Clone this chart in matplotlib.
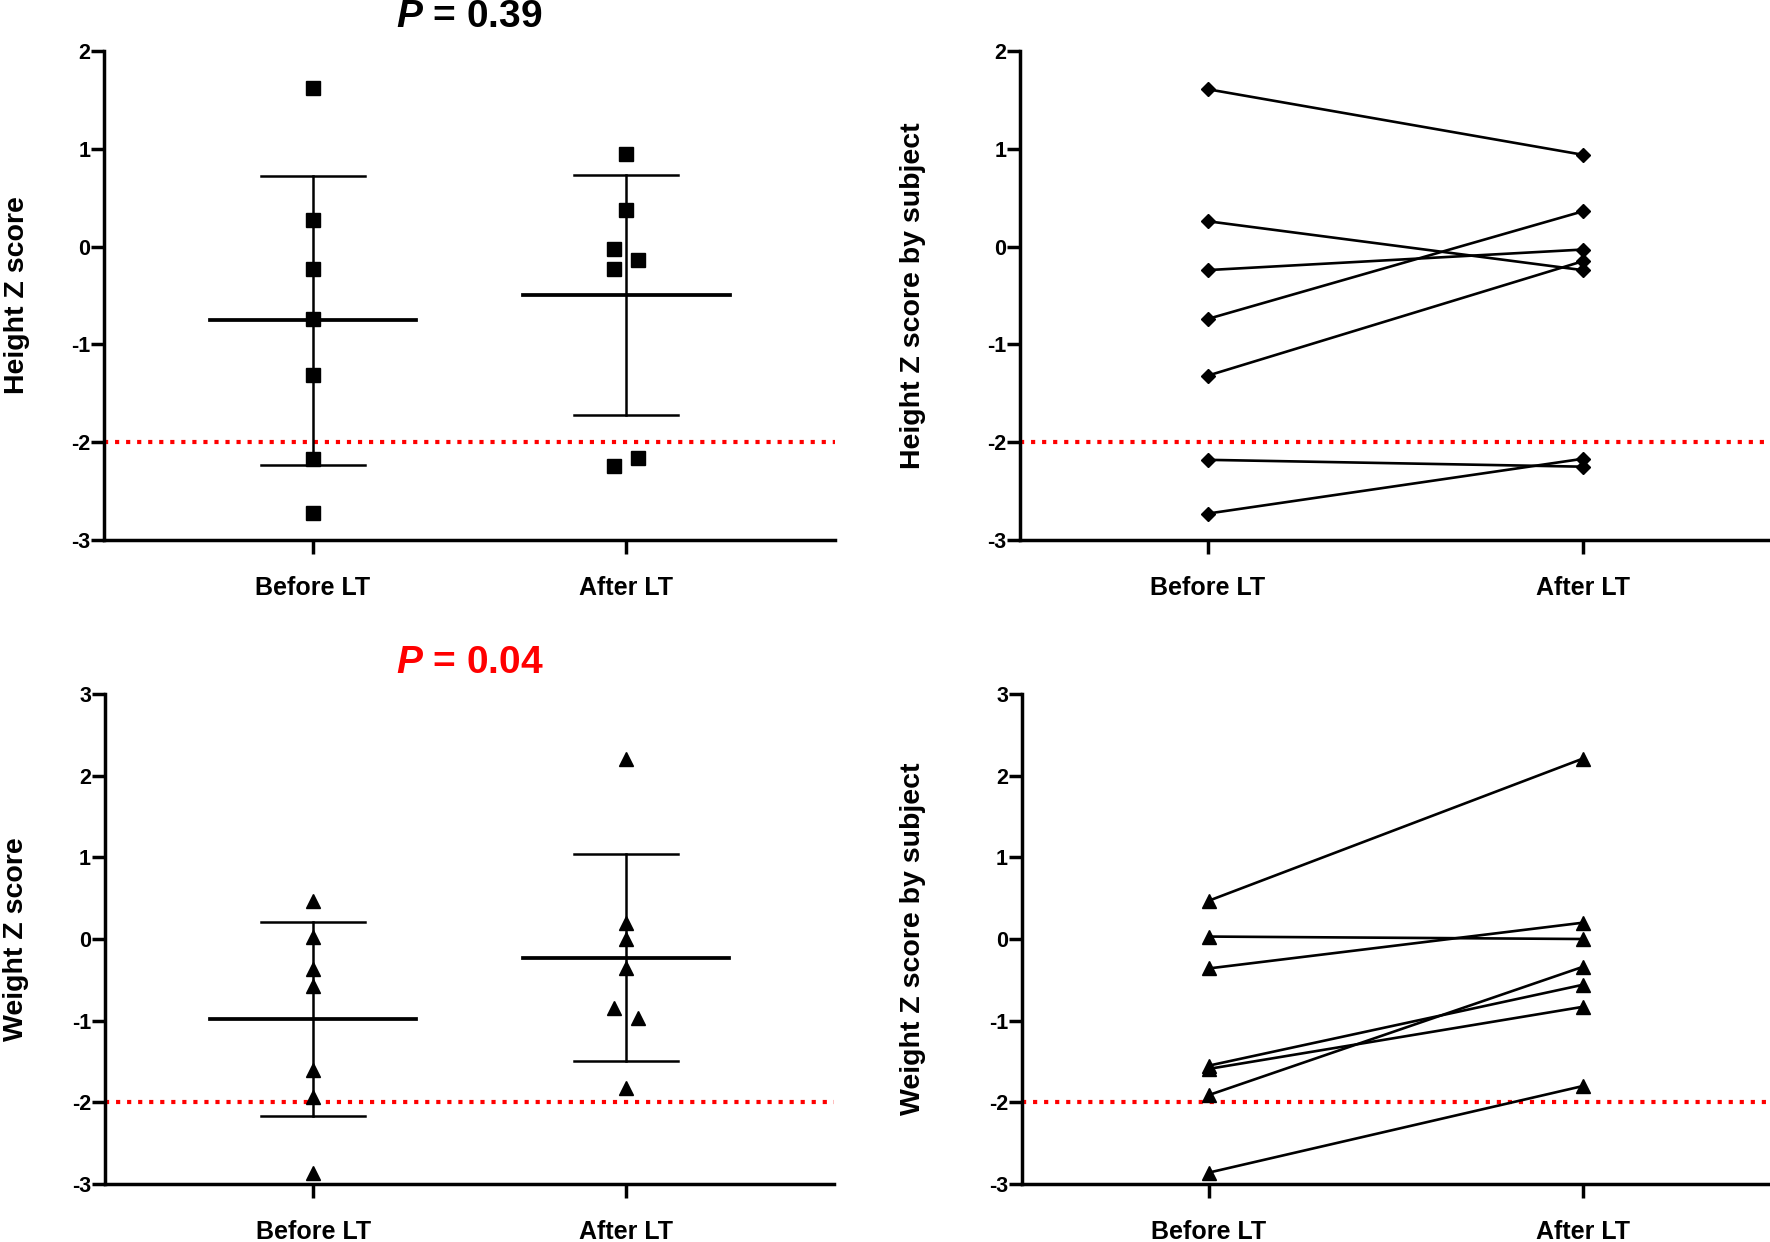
import matplotlib
matplotlib.use("Agg")
import matplotlib.pyplot as plt
import numpy as np

plt.rcParams['font.family'] = ['Liberation Sans', 'DejaVu Sans']
plt.rcParams['font.weight'] = 'bold'
plt.rcParams['axes.unicode_minus'] = False
plt.rcParams['mathtext.fontset'] = 'custom'
plt.rcParams['mathtext.bfit'] = 'Liberation Sans:italic:bold'
plt.rcParams['mathtext.rm'] = 'Liberation Sans:bold'

groups = ['Before LT', 'After LT']

# group scatter (left panels)
height_before = [1.62, 0.27, -0.23, -0.74, -1.31, -2.17, -2.72]
height_after = [0.95, 0.37, -0.02, -0.14, -0.23, -2.16, -2.24]
weight_before = [0.46, 0.03, -0.37, -0.57, -1.60, -1.93, -2.87]
weight_after = [2.20, 0.20, 0.00, -0.35, -0.85, -0.97, -1.82]

# paired by subject (right panels)
height_pre_subj = [1.61, 0.26, -0.24, -0.74, -1.32, -2.18, -2.73]
height_post_subj = [0.94, -0.24, -0.03, 0.36, -0.15, -2.25, -2.17]
weight_pre_subj = [0.47, 0.03, -0.36, -1.55, -1.59, -1.91, -2.86]
weight_post_subj = [2.21, 0.00, 0.20, -0.56, -0.83, -0.34, -1.80]

p_height = '0.39'
p_weight = '0.04'
cutoff = -2

# side shift of overlapping points (layout only)
shift_h_after = [0, 0, -1, 1, -1, 1, -1]
shift_w_after = [0, 0, 0, 0, -1, 1, 0]
shift = 0.038

SPINE = 2.5


def style(ax, ylim, yticks, xlim):
    for s in ['top', 'right']:
        ax.spines[s].set_visible(False)
    for s in ['left', 'bottom']:
        ax.spines[s].set_linewidth(SPINE)
    ax.set_ylim(*ylim)
    ax.set_yticks(yticks)
    ax.set_xlim(*xlim)
    ax.set_xticks([0, 1])
    ax.set_xticklabels(groups)
    ax.tick_params(axis='y', length=9.5, width=SPINE, labelsize=15.5, pad=0.5)
    ax.tick_params(axis='x', length=10, width=SPINE, labelsize=18, pad=16)
    ax.axhline(cutoff, color='#ff0000', lw=3, ls=':', zorder=1)


def group_plot(ax, before, after, shifts, marker, ms):
    for i, vals in enumerate([before, after]):
        vals = np.array(vals)
        m = vals.mean()
        sd = vals.std(ddof=1)
        ax.plot([i - 0.33, i + 0.33], [m, m], color='black', lw=2.7, zorder=2)
        ax.plot([i, i], [m - sd, m + sd], color='black', lw=1.8, zorder=2)
        for y in [m - sd, m + sd]:
            ax.plot([i - 0.167, i + 0.167], [y, y], color='black', lw=1.8, zorder=2)
        xs = np.full(len(vals), float(i))
        if i == 1:
            xs = xs + np.array(shifts) * shift
        ax.plot(xs, vals, ls='none', marker=marker, ms=ms, color='black', zorder=3)


def paired_plot(ax, pre, post, marker, ms):
    for a, b in zip(pre, post):
        ax.plot([0, 1], [a, b], color='black', lw=1.9, marker=marker, ms=ms, zorder=3)


fig = plt.figure(figsize=(17.7, 12.42), dpi=100)

ax1 = fig.add_axes([0.0588, 0.5652, 0.4130, 0.3937])
ax2 = fig.add_axes([0.5763, 0.5652, 0.4237, 0.3937])
ax3 = fig.add_axes([0.0593, 0.0467, 0.4119, 0.3945])
ax4 = fig.add_axes([0.5774, 0.0467, 0.4226, 0.3945])

group_plot(ax1, height_before, height_after, shift_h_after, 's', 9.5)
style(ax1, (-3, 2), range(-3, 3), (-0.667, 1.667))
ax1.set_ylabel('Height Z score', fontsize=20.5, fontweight='bold')
ax1.yaxis.set_label_coords(-0.101, 0.5)
ax1.set_title(r'$\mathbfit{P}$ = ' + p_height, fontsize=28, fontweight='bold', pad=17)

paired_plot(ax2, height_pre_subj, height_post_subj, 'D', 7)
style(ax2, (-3, 2), range(-3, 3), (-0.5, 1.5))
ax2.set_ylabel('Height Z score by subject', fontsize=20.5, fontweight='bold')
ax2.yaxis.set_label_coords(-0.125, 0.5)

group_plot(ax3, weight_before, weight_after, shift_w_after, '^', 10)
style(ax3, (-3, 3), range(-3, 4), (-0.667, 1.667))
ax3.set_ylabel('Weight Z score', fontsize=20.5, fontweight='bold')
ax3.yaxis.set_label_coords(-0.104, 0.5)
ax3.set_title(r'$\mathbfit{P}$ = ' + p_weight, fontsize=28, fontweight='bold',
              color='#ff0000', pad=15)

paired_plot(ax4, weight_pre_subj, weight_post_subj, '^', 10)
style(ax4, (-3, 3), range(-3, 4), (-0.5, 1.5))
ax4.set_ylabel('Weight Z score by subject', fontsize=20.5, fontweight='bold')
ax4.yaxis.set_label_coords(-0.128, 0.5)

for ax in [ax1, ax2, ax3, ax4]:
    for sp in ax.spines.values():
        sp.set_zorder(4)

fig.savefig('out.png', dpi=100)
